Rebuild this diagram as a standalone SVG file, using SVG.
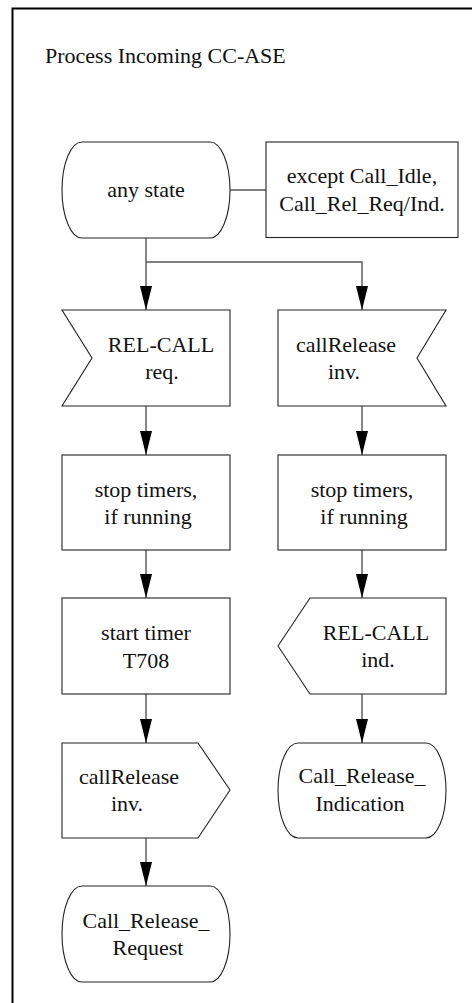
<svg xmlns="http://www.w3.org/2000/svg" width="472" height="1003" viewBox="0 0 472 1003" font-family="'Liberation Serif', 'Times New Roman', Times, serif">
<style>
.n{fill:#fff;stroke:#222;stroke-width:1.1}
.t{font-family:'Liberation Serif','Times New Roman',Times,serif;font-size:22px;fill:#111;text-anchor:middle}
.c{fill:none;stroke:#555;stroke-width:1.4}
</style>
<defs>
<marker id="ah" markerUnits="userSpaceOnUse" markerWidth="24" markerHeight="12" viewBox="0 0 24 12" refX="24" refY="6" orient="auto">
<path d="M0 0 L24 6 L0 12 Z" fill="#000"/>
</marker>
</defs>
<rect width="472" height="1003" fill="#fff"/>
<path d="M12.5 1003 V8.5 H472" fill="none" stroke="#000" stroke-width="2"/>
<text x="45" y="63" class="t" text-anchor="start" style="text-anchor:start">Process Incoming CC-ASE</text>

<g id="connectors">
<path class="c" d="M230 190 H266"/>
<path class="c" d="M146 238 V310" marker-end="url(#ah)"/>
<path class="c" d="M146 262 H362 V310" marker-end="url(#ah)"/>
<path class="c" d="M146 406 V455" marker-end="url(#ah)"/>
<path class="c" d="M362 406 V455" marker-end="url(#ah)"/>
<path class="c" d="M146 550 V598" marker-end="url(#ah)"/>
<path class="c" d="M362 550 V598" marker-end="url(#ah)"/>
<path class="c" d="M146 694 V743" marker-end="url(#ah)"/>
<path class="c" d="M362 694 V743" marker-end="url(#ah)"/>
<path class="c" d="M146 838 V886" marker-end="url(#ah)"/>
</g>

<g id="any_state">
<path class="n" d="M82 142 H210 A20 48 0 0 1 210 238 H82 A20 48 0 0 1 82 142 Z"/>
<text x="146" y="197" class="t">any state</text>
</g>
<g id="except_note">
<rect class="n" x="266" y="142" width="192" height="95.5"/>
<text x="362" y="183" class="t">except Call_Idle,</text>
<text x="362" y="211" class="t">Call_Rel_Req/Ind.</text>
</g>
<g id="relcall_req">
<path class="n" d="M62 310 H230 V406 H62 L92 358 Z"/>
<text x="161" y="352" class="t">REL-CALL</text>
<text x="162" y="379" class="t">req.</text>
</g>
<g id="callrelease_inv_in">
<path class="n" d="M278 310 H446 L417 358 L446 406 H278 Z"/>
<text x="346" y="352" class="t">callRelease</text>
<text x="344" y="379" class="t">inv.</text>
</g>
<g id="stop_timers_left">
<rect class="n" x="62" y="455" width="168" height="95"/>
<text x="146" y="497" class="t">stop timers,</text>
<text x="148" y="524" class="t">if running</text>
</g>
<g id="stop_timers_right">
<rect class="n" x="278" y="455" width="168" height="95"/>
<text x="362" y="497" class="t">stop timers,</text>
<text x="364" y="524" class="t">if running</text>
</g>
<g id="start_timer">
<rect class="n" x="62" y="598" width="168" height="96"/>
<text x="146" y="640" class="t">start timer</text>
<text x="146" y="668" class="t">T708</text>
</g>
<g id="relcall_ind">
<path class="n" d="M310 598 H446 V694 H310 L278 646 Z"/>
<text x="376" y="640" class="t">REL-CALL</text>
<text x="378" y="667" class="t">ind.</text>
</g>
<g id="callrelease_inv_out">
<path class="n" d="M62 743 H198 L230 790 L198 838 H62 Z"/>
<text x="129" y="784" class="t">callRelease</text>
<text x="127" y="811" class="t">inv.</text>
</g>
<g id="call_release_indication">
<path class="n" d="M298 743 H426 A20 47.5 0 0 1 426 838 H298 A20 47.5 0 0 1 298 743 Z"/>
<text x="362" y="783" class="t">Call_Release_</text>
<text x="360" y="811" class="t">Indication</text>
</g>
<g id="call_release_request">
<path class="n" d="M82 886 H210 A20 48 0 0 1 210 982 H82 A20 48 0 0 1 82 886 Z"/>
<text x="146" y="928" class="t">Call_Release_</text>
<text x="148" y="955" class="t">Request</text>
</g>
</svg>
